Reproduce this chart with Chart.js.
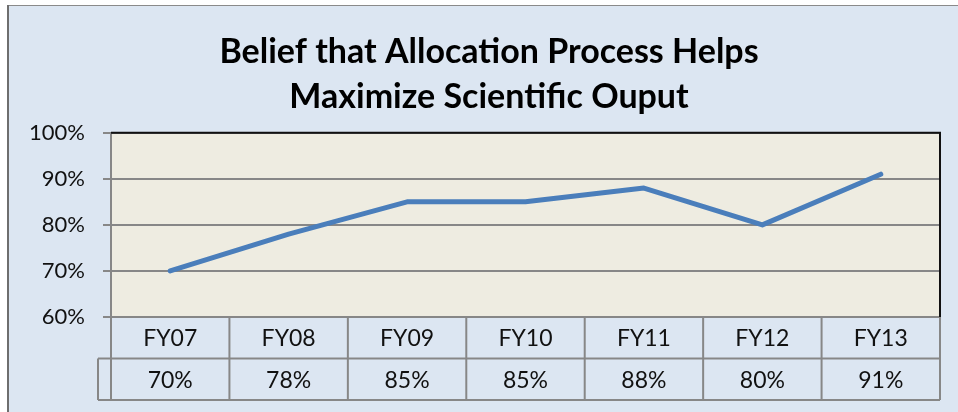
<!DOCTYPE html>
<html>
<head>
<meta charset="utf-8">
<script src="https://cdn.jsdelivr.net/npm/chart.js@4.4.1/dist/chart.umd.min.js"></script>
<style>
  html, body { margin: 0; padding: 0; background: #fff; }
  #wrap { width: 958px; height: 412px; }
</style>
</head>
<body>
<div id="wrap"><canvas id="chart"></canvas></div>
<script>
const categories = ['FY07', 'FY08', 'FY09', 'FY10', 'FY11', 'FY12', 'FY13']
const beliefValues = [70, 78, 85, 85, 88, 80, 91]
const tableLabels = ['70%', '78%', '85%', '85%', '88%', '80%', '91%']

const FONT = 'Lato, "Liberation Sans", sans-serif'
const GRID = '#878787'

// light blue frame + beige plot area
const backdrop = {
  id: 'backdrop',
  beforeDraw: (chart) => {
    const ctx = chart.ctx
    const a = chart.chartArea
    ctx.save()
    ctx.fillStyle = '#ffffff'
    ctx.fillRect(0, 0, chart.width, chart.height)
    ctx.fillStyle = '#dce6f2'
    ctx.fillRect(8, 5, chart.width, chart.height)
    ctx.strokeStyle = '#8a8a8a'
    ctx.lineWidth = 1
    ctx.beginPath()
    ctx.moveTo(8, 5.5)
    ctx.lineTo(chart.width, 5.5)
    ctx.stroke()
    ctx.strokeStyle = '#6e6e6e'
    ctx.lineWidth = 2
    ctx.beginPath()
    ctx.moveTo(8, 5)
    ctx.lineTo(8, chart.height)
    ctx.stroke()
    ctx.fillStyle = '#eeece1'
    ctx.fillRect(a.left, a.top, a.right - a.left, a.bottom - a.top)
    ctx.restore()
  },
  afterDatasetsDraw: (chart) => {
    const ctx = chart.ctx
    const a = chart.chartArea
    ctx.save()
    ctx.strokeStyle = '#111111'
    ctx.lineWidth = 2
    ctx.beginPath()
    ctx.moveTo(a.left, a.top)
    ctx.lineTo(a.right, a.top)
    ctx.lineTo(a.right, a.bottom)
    ctx.stroke()
    ctx.restore()
  }
}

// data table under the plot
const dataTable = {
  id: 'dataTable',
  afterDraw: (chart) => {
    const ctx = chart.ctx
    const x = chart.scales.x
    const a = chart.chartArea
    const cellW = (x.right - x.left) / categories.length
    const rowH = 41.5
    const r0 = a.bottom
    const r1 = r0 + rowH
    const r2 = r1 + rowH
    ctx.save()
    ctx.strokeStyle = GRID
    ctx.lineWidth = 2
    ctx.beginPath()
    ctx.moveTo(a.left, r1); ctx.lineTo(a.right, r1)
    ctx.moveTo(a.left - 13, r2); ctx.lineTo(a.right, r2)
    ctx.moveTo(a.left - 13, r1); ctx.lineTo(a.left, r1)
    ctx.moveTo(a.left - 13, r1); ctx.lineTo(a.left - 13, r2)
    for (let i = 0; i <= categories.length; i++) {
      const px = i < categories.length ? x.getPixelForValue(i) - cellW / 2 : x.getPixelForValue(i - 1) + cellW / 2
      ctx.moveTo(px, r0); ctx.lineTo(px, r2)
    }
    ctx.stroke()
    ctx.fillStyle = '#111111'
    ctx.font = '23px ' + FONT
    ctx.textAlign = 'center'
    ctx.textBaseline = 'middle'
    categories.forEach((c, i) => {
      const cx = x.getPixelForValue(i)
      ctx.fillText(c, cx, (r0 + r1) / 2 + 1)
      ctx.fillText(tableLabels[i], cx, (r1 + r2) / 2 + 1)
    })
    ctx.restore()
  }
}

const chart = new Chart(document.getElementById('chart'), {
  type: 'line',
  data: {
    labels: categories,
    datasets: [{
      label: 'Belief',
      data: beliefValues,
      borderColor: '#4a7ebb',
      borderWidth: 5,
      pointRadius: 0,
      borderCapStyle: 'round',
      borderJoinStyle: 'round',
      tension: 0
    }]
  },
  options: {
    responsive: true,
    maintainAspectRatio: false,
    animation: false,
    layout: { padding: { left: 20, top: 0, right: 0, bottom: 95 } },
    plugins: {
      legend: { display: false },
      tooltip: { enabled: false },
      title: {
        display: true,
        text: ['Belief that Allocation Process Helps', 'Maximize Scientific Ouput'],
        color: '#000000',
        font: { family: FONT, size: 34, weight: 'bold', lineHeight: 1.32 },
        padding: { top: 30, bottom: 13 }
      }
    },
    scales: {
      x: {
        display: false,
        offset: true
      },
      y: {
        min: 60,
        max: 100,
        afterFit: (scale) => { scale.width = 91 },
        border: { display: true, color: GRID, width: 2 },
        grid: { color: GRID, lineWidth: 2, tickLength: 8 },
        ticks: {
          stepSize: 10,
          padding: 18,
          color: '#111111',
          font: { family: FONT, size: 22 },
          callback: (v) => v + '%'
        }
      },
      // empty right axis, only keeps the margin right of the plot
      yRight: {
        position: 'right',
        min: 60,
        max: 100,
        afterFit: (scale) => { scale.width = 18 },
        border: { display: false },
        grid: { display: false },
        ticks: { display: false }
      }
    }
  },
  plugins: [backdrop, dataTable]
})
</script>
</body>
</html>
